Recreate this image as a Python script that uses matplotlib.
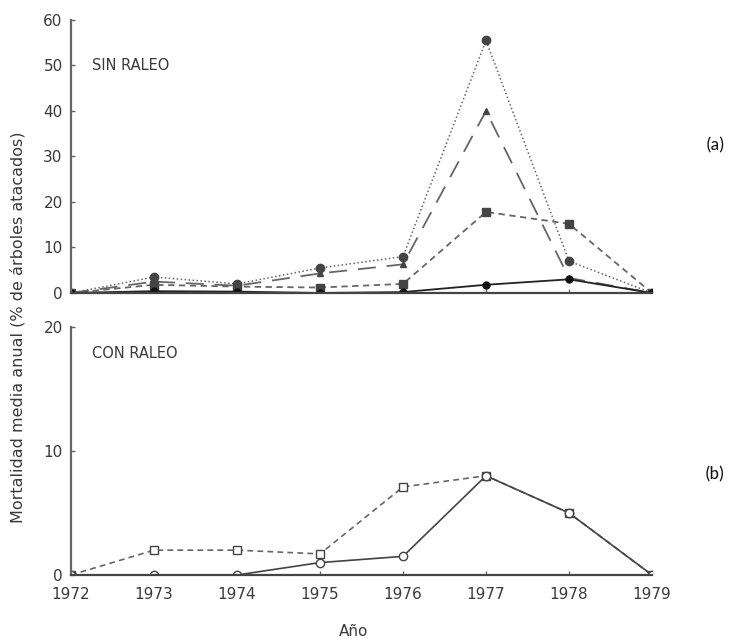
import matplotlib
matplotlib.use("Agg")
import matplotlib.pyplot as plt

years = [1972, 1973, 1974, 1975, 1976, 1977, 1978, 1979]

# sin raleo (a)
sin_dotted = [0, 3.5, 2.0, 5.5, 8.0, 55.5, 7.0, 0]
sin_longdash = [0, 2.5, 1.6, 4.3, 6.3, 40.0, 3.3, 0]
sin_dashed = [0, 1.8, 1.4, 1.2, 2.0, 17.8, 15.2, 0]
sin_solid = [0, 0.4, 0.3, 0, 0.2, 1.8, 3.0, 0]

# con raleo (b)
con_dashed = [0, 2.0, 2.0, 1.7, 7.1, 8.0, 5.0, 0]
con_solid = [0, 0, 0, 1.0, 1.5, 8.0, 5.0, 0]

year_labels = [str(y) for y in years]

plt.rcParams['font.family'] = ['DejaVu Sans']
grey = "#666666"
dark = "#444444"
txt = "#3a3a3a"

fig = plt.figure(figsize=(7.42, 6.39), dpi=100)
ax1 = fig.add_axes([0.0957, 0.5415, 0.783, 0.4272])
ax2 = fig.add_axes([0.0957, 0.1002, 0.783, 0.3881])


def style(ax, ymax, yticks):
    ax.set_xlim(1972, 1979)
    ax.set_ylim(0, ymax)
    ax.set_yticks(yticks)
    for s in ("top", "right"):
        ax.spines[s].set_visible(False)
    for s in ("left", "bottom"):
        ax.spines[s].set_color(grey)
        ax.spines[s].set_linewidth(1.6)
    ax.spines["bottom"].set_color(dark)
    ax.tick_params(direction="in", length=3, width=1, colors=grey,
                   labelcolor=txt, labelsize=11)
    ax.tick_params(axis="y", pad=6)
    ax.set_xticks(years)


style(ax1, 60, [0, 10, 20, 30, 40, 50, 60])
ax1.set_xticklabels([])

ax1.plot(years, sin_dotted, color=grey, lw=1.1, ls=(0, (1, 1.6)),
         marker="o", ms=6, mfc=dark, mec=dark)
ax1.plot(years, sin_longdash, color=grey, lw=1.3, ls=(0, (10, 6)),
         marker="^", ms=5, mfc=dark, mec=dark)
ax1.plot(years, sin_dashed, color=grey, lw=1.3, ls=(0, (3.5, 2.5)),
         marker="s", ms=6, mfc=dark, mec=dark)
ax1.plot(years, sin_solid, color="#222222", lw=1.3, ls="-",
         marker="o", ms=5, mfc="#111111", mec="#111111")
ax1.text(1972.25, 50, "SIN RALEO", fontsize=10.5, color=txt, va="center")

style(ax2, 20, [0, 10, 20])
ax2.set_xticklabels(year_labels)
ax2.tick_params(axis="x", pad=9)
ax2.plot(years, con_dashed, color=grey, lw=1.2, ls=(0, (3.5, 2.5)),
         marker="s", ms=6, mfc="white", mec=dark, mew=1)
ax2.plot(years, con_solid, color="#444444", lw=1.2, ls="-",
         marker="o", ms=6, mfc="white", mec=dark, mew=1)
ax2.text(1972.25, 17.9, "CON RALEO", fontsize=10.5, color=txt, va="center")

fig.text(0.024, 0.488, "Mortalidad media anual (% de árboles atacados)",
         rotation=90, ha="center", va="center", fontsize=11.5, color=txt)
fig.text(0.476, 0.011, "Año", ha="center", va="center", fontsize=11,
         color=txt)
fig.text(0.964, 0.773, "(a)", ha="center", va="center", fontsize=13,
         family=["Carlito", "Lato", "DejaVu Sans"], color="#111111")
fig.text(0.964, 0.257, "(b)", ha="center", va="center", fontsize=13,
         family=["Carlito", "Lato", "DejaVu Sans"], color="#111111")

fig.savefig("out.png", dpi=100)
